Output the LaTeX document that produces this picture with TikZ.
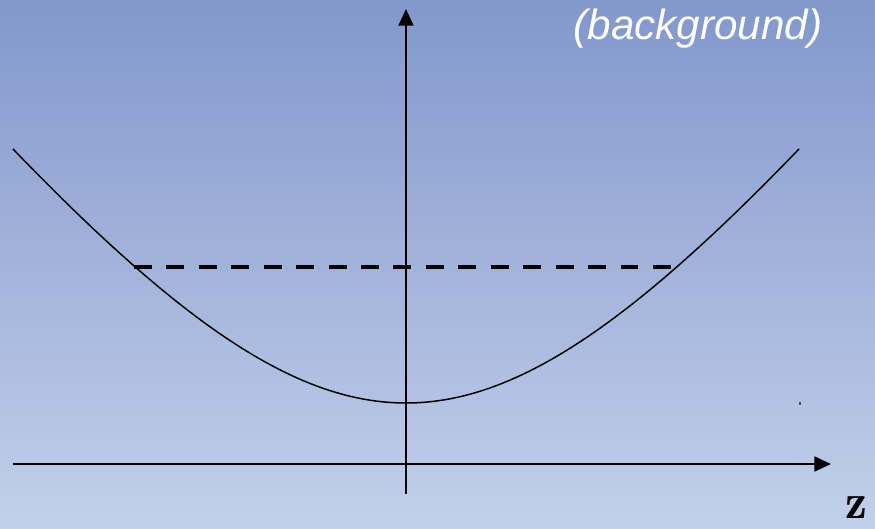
\documentclass[tikz,border=0pt]{standalone}
\usepackage{fontspec}
\newfontfamily\argsans{Liberation Sans}
\usetikzlibrary{arrows.meta}
\definecolor{bgtop}{RGB}{130,151,204}
\definecolor{bgbot}{RGB}{195,208,234}
\tikzset{
  axisline/.style={line width=1.25pt,-{Triangle[length=9.5pt,width=8.5pt]}},
  curveline/.style={line width=0.85pt},
  levelline/.style={line width=2.2pt,dash pattern=on 10.2pt off 8.26pt},
  labeltext/.style={text=white,font=\argsans\itshape\fontsize{24}{27}\selectfont,inner sep=0pt},
}
\begin{document}
\begin{tikzpicture}[x=0.02cm,y=-0.02cm]
\shade[top color=bgtop,bottom color=bgbot] (0,0) rectangle (875,528);
\useasboundingbox (0,0) rectangle (875,528);
% axes
\coordinate (hs) at (13,464);
\coordinate (he) at (831,464);
\coordinate (vs) at (406,494);
\coordinate (ve) at (406,9);
\draw[axisline] (hs) -- (he);
\draw[axisline] (vs) -- (ve);
% curve (hyperbola)
\draw[curveline,domain=-393:393,samples=120,variable=\t]
  plot ({406+\t},{403-392*(sqrt(1+(\t/300)^2)-1)});
% dashed level
\coordinate (dl) at (134,267);
\coordinate (dr) at (673,267);
\draw[levelline] (dl) -- (dr);
% labels
\node[labeltext] (bg) at (698,29) {(background)};
\node[inner sep=0pt,font=\fontsize{28}{30}\selectfont] (z) at (856,508) {$\mathbf{z}$};
\fill[black!70] (799.2,402) rectangle (800.8,405);
\end{tikzpicture}
\end{document}
